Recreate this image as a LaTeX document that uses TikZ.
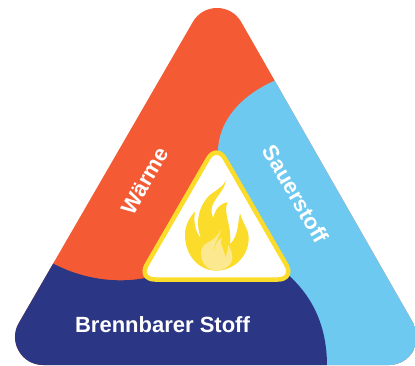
\documentclass[tikz,border=0pt]{standalone}
\usepackage{fontspec}
\setmainfont{Liberation Sans}
\definecolor{heat}{HTML}{F45B35}
\definecolor{oxy}{HTML}{6DC9F0}
\definecolor{fuel}{HTML}{2B3784}
\definecolor{flame}{HTML}{FBDC2B}
\definecolor{paleflame}{HTML}{FBE88F}
\tikzset{label text/.style={text=white,font=\bfseries\fontsize{22}{24}\selectfont,inner sep=0pt}}
\begin{document}
\begin{tikzpicture}[x=1pt,y=-1pt]
\useasboundingbox (0,0) rectangle (415,366);
\clip (0,0) rectangle (415,366);
\begin{scope}
\clip (192.8,22) .. controls (203.6,3.3) and (230.4,3.3) .. (241.2,22)
  -- (413.2,323) .. controls (424,341.7) and (410.55,365) .. (389,365)
  -- (43,365) .. controls (21.45,365) and (8,341.7) .. (18.8,323) -- cycle;
\fill[heat] (0,0) rectangle (415,366);
\fill[oxy] (285,70) -- (274,81) .. controls (240,96) and (218,122) .. (218,152) -- (280,270) -- (327,366) -- (440,366) -- (440,70) -- cycle;
\fill[fuel] (40,255) -- (54,264) .. controls (85,280) and (120,284) .. (150,277) -- (285,272) .. controls (312,295) and (327,325) .. (327,366) -- (-5,366) -- (-5,255) -- cycle;
\end{scope}
\draw[flame,line width=4.5pt,fill=white,rounded corners=17pt] (216.5,144) -- (294.8,279.5) -- (138.2,279.5) -- cycle;
\begin{scope}[shift={(175,170)},x=0.3333pt,y=-0.3333pt]
\fill[flame] (125,302) .. controls (70,302) and (30,255) .. (30,195)
  .. controls (30,165) and (45,140) .. (60,125)
  .. controls (55,155) and (60,185) .. (78,205)
  .. controls (64,170) and (64,125) .. (95,85)
  .. controls (110,65) and (145,55) .. (152,30)
  .. controls (152,60) and (115,85) .. (110,115)
  .. controls (108,128) and (112,138) .. (115,145)
  .. controls (118,120) and (135,100) .. (158,97)
  .. controls (142,125) and (172,170) .. (165,222)
  .. controls (190,200) and (188,160) .. (195,130)
  .. controls (205,165) and (221,175) .. (221,205)
  .. controls (221,260) and (175,302) .. (125,302) -- cycle;
\fill[paleflame] (125,301) .. controls (95,301) and (78,278) .. (78,250)
  .. controls (78,225) and (95,220) .. (103,215)
  .. controls (118,207) and (130,195) .. (137,178)
  .. controls (137,200) and (112,220) .. (118,252)
  .. controls (118,225) and (128,208) .. (141,203)
  .. controls (130,225) and (152,240) .. (150,265)
  .. controls (158,250) and (157,238) .. (160,225)
  .. controls (168,240) and (172,250) .. (172,262)
  .. controls (172,285) and (150,301) .. (125,301) -- cycle;
\end{scope}
\node[label text] (fuelname) at (162.5,325) {Brennbarer Stoff};
\node[label text,rotate=60] (heatname) at (145,181) {Wärme};
\node[label text,rotate=-60] (oxyname) at (296,194) {Sauerstoff};
\end{tikzpicture}
\end{document}
